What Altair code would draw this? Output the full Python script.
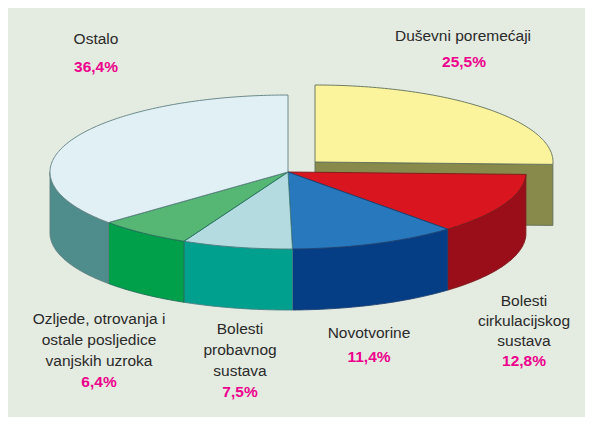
import math
import altair as alt

# ---- chart values
slice_names = ["Duševni poremećaji", "Bolesti cirkulacijskog sustava", "Novotvorine",
               "Bolesti probavnog sustava", "Ozljede, otrovanja i ostale posljedice vanjskih uzroka", "Ostalo"]
shares = [25.5, 12.8, 11.4, 7.5, 6.4, 36.4]
top_colors = ["#fcf49c", "#d9161f", "#2878bd", "#b3dbe0", "#56b774", "#e0f0f5"]
side_colors = ["#878a4b", "#9a0e1a", "#063e86", "#00a08f", "#00a04b", "#4f8c8c"]
edge_colors = ["#5f6f58", "#7a1a1c", "#1c3f70", "#3f7f80", "#1f6f58", "#5f7f80"]

black_lines = ["Ostalo", "Duševni poremećaji",
               "Ozljede, otrovanja i", "ostale posljedice", "vanjskih uzroka",
               "Bolesti", "probavnog", "sustava",
               "Novotvorine",
               "Bolesti", "cirkulacijskog", "sustava"]
black_x = [96, 463, 99, 99, 99, 240, 240, 240, 369, 524, 524, 524]
black_y = [39, 36, 319, 340, 361, 329, 350, 371, 333, 301, 321, 341]
pct_lines = ["36,4%", "25,5%", "6,4%", "7,5%", "11,4%", "12,8%"]
pct_x = [96, 464, 99, 240, 369, 524]
pct_y = [67, 62, 382, 392, 357, 361]

# ---- layout of the tilted pie (page pixels minus the 8px margin)
M = 8
CX, CY = 288 - M, 172 - M
RX, RY = 238, 77
DEPTH = 61
EX_DX, EX_DY = 27, -10   # displacement of the pulled-out slice


def pt(t, cx, cy, dz=0):
    a = math.radians(t)
    return [cx + RX * math.sin(a), cy - RY * math.cos(a) + dz]


def arc(t0, t1, cx, cy, dz=0):
    n = max(2, int(abs(t1 - t0)) + 1)
    return [pt(t0 + (t1 - t0) * i / n, cx, cy, dz) for i in range(n + 1)]


def feat(ring, fill, stroke):
    return {"type": "Feature",
            "geometry": {"type": "Polygon", "coordinates": [ring + [ring[0]]]},
            "properties": {"fill": fill, "stroke": stroke}}


starts, acc = [], 0.0
for s in shares:
    starts.append(acc)
    acc += s * 3.6

features, tops = [], []
for i, s in enumerate(shares):
    t0, t1 = starts[i], starts[i] + s * 3.6
    cx, cy = (CX + EX_DX, CY + EX_DY) if i == 0 else (CX, CY)
    tops.append(feat([[cx, cy]] + arc(t0, t1, cx, cy), top_colors[i], edge_colors[i]))
    if i == 0:
        # the wall of the cut face of the pulled-out slice
        p = pt(t1, cx, cy)
        ring = [[cx, cy], p, [p[0], p[1] + DEPTH], [cx, cy + DEPTH]]
        features.append(feat(ring, side_colors[i], edge_colors[i]))
    else:
        a, b = max(t0, 90), min(t1, 270)
        if b > a:
            ring = arc(a, b, cx, cy) + arc(b, a, cx, cy, DEPTH)
            features.append(feat(ring, side_colors[i], edge_colors[i]))

features = features + tops

# the drawing is shrunk if the chart is larger than window minus both margins
W, H = 593 - 2 * M, 425 - 2 * M

pie = alt.Chart(alt.Data(values=features)).mark_geoshape(strokeWidth=0.9).encode(
    fill=alt.Fill("properties.fill:N", scale=None, legend=None),
    stroke=alt.Stroke("properties.stroke:N", scale=None, legend=None),
).project(type="identity", scale=1, translate=[0, 0])


def text_layer(lines, xs, ys, **kw):
    rows = [{"t": t, "x": x - M, "y": y - M} for t, x, y in zip(lines, xs, ys)]
    return alt.Chart(alt.Data(values=rows)).mark_text(
        font="Liberation Sans", align="center", baseline="middle", **kw
    ).encode(
        x=alt.X("x:Q", scale=None, axis=None),
        y=alt.Y("y:Q", scale=None, axis=None),
        text="t:N",
    )


labels = text_layer(black_lines, black_x, black_y, fontSize=15.5, color="#2a2a2a")
pcts = text_layer(pct_lines, pct_x, pct_y, fontSize=15.5, fontWeight="bold", color="#ec008c")

chart = alt.layer(pie, labels, pcts).properties(
    width=W, height=H, background="#e4ebe1",
    padding=0, autosize=alt.AutoSizeParams(type="none"),
).configure_view(stroke=None)

chart.save("out.html", embed_options={"renderer": "svg", "actions": False})
